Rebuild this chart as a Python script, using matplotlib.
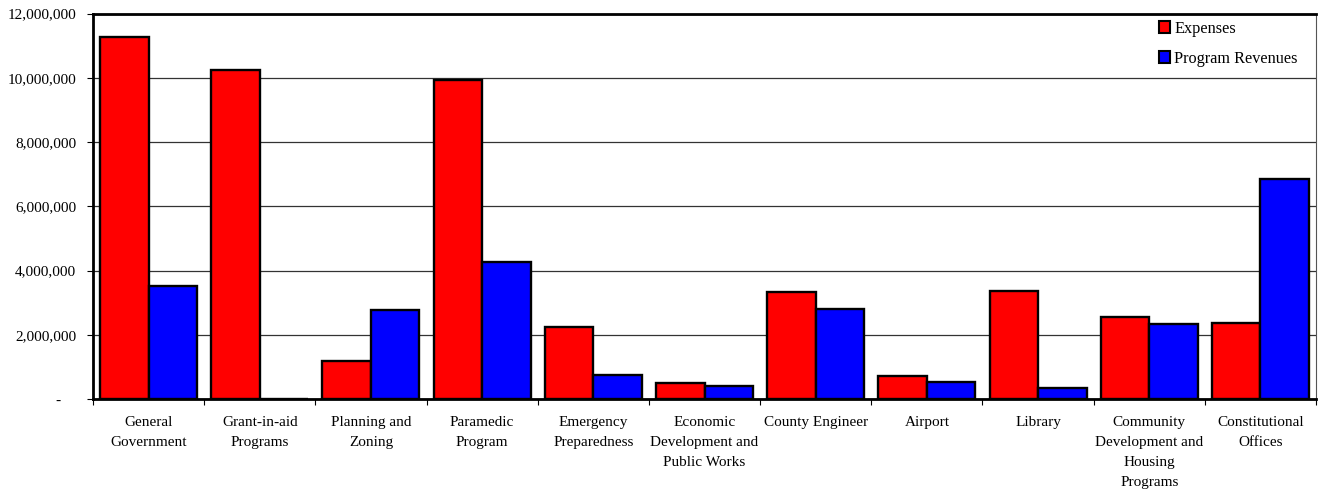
import numpy as np
import matplotlib
matplotlib.use("Agg")
import matplotlib.pyplot as plt
from matplotlib.patches import Patch
from matplotlib.ticker import FuncFormatter, FixedLocator

categories = [
    "General\nGovernment",
    "Grant-in-aid\nPrograms",
    "Planning and\nZoning",
    "Paramedic\nProgram",
    "Emergency\nPreparedness",
    "Economic\nDevelopment and\nPublic Works",
    "County Engineer",
    "Airport",
    "Library",
    "Community\nDevelopment and\nHousing\nPrograms",
    "Constitutional\nOffices",
]
expenses = [11280000, 10230000, 1190000, 9930000, 2250000, 490000,
            3340000, 720000, 3360000, 2560000, 2370000]
program_revenues = [3530000, 0, 2770000, 4270000, 750000, 400000,
                    2800000, 540000, 330000, 2340000, 6840000]
yticks = [0, 2000000, 4000000, 6000000, 8000000, 10000000, 12000000]

plt.rcParams['font.family'] = ['Liberation Serif', 'DejaVu Serif']

fig = plt.figure(figsize=(13.18, 4.93), dpi=100)
ax = fig.add_axes([93/1318, (493-399)/493, (1316-93)/1318, (399-13.5)/493])

x = np.arange(len(categories))
w = 0.436
ax.bar(x - w/2, expenses, width=w, color='#ff0000', edgecolor='black', linewidth=1.7, zorder=3)
ax.bar(x + w/2, program_revenues, width=w, color='#0000ff', edgecolor='black', linewidth=1.7, zorder=3)

ax.set_xlim(-0.5, len(categories) - 0.5)
ax.set_ylim(0, 12000000)
ax.set_yticks(yticks)
ax.yaxis.set_major_formatter(FuncFormatter(lambda v, p: "-    " if v == 0 else f"{int(v):,}"))
ax.yaxis.grid(True, color='#333333', linewidth=0.9, zorder=0)

ax.xaxis.set_major_locator(FixedLocator(np.arange(len(categories) + 1) - 0.5))
ax.xaxis.set_minor_locator(FixedLocator(x))
ax.set_xticklabels([])
ax.set_xticklabels(categories, minor=True)
ax.tick_params(axis='x', which='major', length=4, width=0.8, direction='out')
ax.tick_params(axis='x', which='minor', length=0, pad=12.5, labelsize=11)
for lbl in ax.get_xticklabels(minor=True):
    lbl.set_linespacing(1.68)
    lbl.set_verticalalignment('top')
ax.tick_params(axis='y', length=4, width=0.8, pad=8, labelsize=11)

for s in ['top', 'left', 'bottom']:
    ax.spines[s].set_linewidth(2)
    ax.spines[s].set_color('black')
ax.spines['right'].set_linewidth(0.8)
ax.spines['right'].set_color('#555555')

handles = [Patch(facecolor='#ff0000', edgecolor='black', linewidth=1.5, label='Expenses'),
           Patch(facecolor='#0000ff', edgecolor='black', linewidth=1.5, label='Program Revenues')]
ax.legend(handles=handles, loc='upper right', bbox_to_anchor=(0.997, 1.019), frameon=False,
          fontsize=11.7, handlelength=0.7, handleheight=0.7, handletextpad=0.25,
          labelspacing=0.85, borderaxespad=0.5)

fig.savefig("out.png", dpi=100)
